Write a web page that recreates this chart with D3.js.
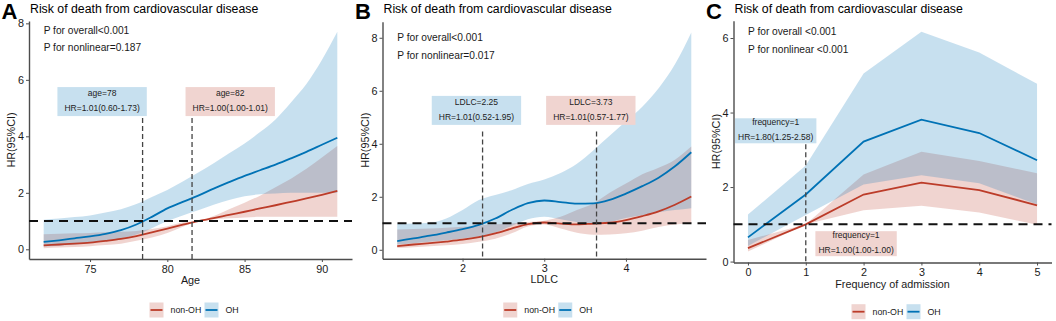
<!DOCTYPE html>
<html>
<head>
<meta charset="utf-8">
<script src="https://cdn.jsdelivr.net/npm/d3@7"></script>
<style>
  body { margin: 0; background: #fff; }
  svg { font-family: "Liberation Sans", Arial, sans-serif; }
</style>
</head>
<body>
<svg id="chart" width="1056" height="321"></svg>
<script>
// ---- panel A : age ----
var ageX      = [72, 73, 74, 75, 76, 77, 78, 79, 80, 81, 82, 83, 84, 85, 86, 87, 88, 89, 90, 91];
var ageOH     = [0.26, 0.32, 0.39, 0.46, 0.55, 0.68, 0.88, 1.15, 1.45, 1.68, 1.90, 2.15, 2.38, 2.60, 2.80, 3.00, 3.22, 3.45, 3.70, 3.95];
var ageOHLo   = [0.10, 0.13, 0.17, 0.22, 0.29, 0.38, 0.52, 0.75, 1.00, 1.20, 1.38, 1.58, 1.75, 1.88, 1.95, 1.98, 2.00, 2.00, 2.00, 2.00];
var ageOHHi   = [1.05, 1.09, 1.14, 1.20, 1.30, 1.42, 1.60, 1.85, 2.10, 2.40, 2.72, 3.05, 3.40, 3.75, 4.15, 4.60, 5.20, 5.85, 6.70, 7.70];
var ageNon    = [0.14, 0.17, 0.20, 0.24, 0.30, 0.37, 0.47, 0.60, 0.73, 0.87, 1.00, 1.10, 1.22, 1.33, 1.45, 1.56, 1.68, 1.80, 1.93, 2.07];
var ageNonLo  = [0.04, 0.06, 0.08, 0.11, 0.15, 0.20, 0.30, 0.42, 0.58, 0.80, 0.995, 1.06, 1.10, 1.13, 1.15, 1.15, 1.15, 1.15, 1.15, 1.15];
var ageNonHi  = [0.53, 0.55, 0.57, 0.58, 0.60, 0.62, 0.65, 0.72, 0.82, 0.95, 1.01, 1.18, 1.42, 1.65, 1.90, 2.20, 2.50, 2.85, 3.25, 3.66];
var ageTicks  = [75, 80, 85, 90];
var ageYTicks = [0, 2, 4, 6, 8];

// ---- panel B : LDLC ----
var ldlcX     = [1.2, 1.4, 1.6, 1.8, 2.0, 2.2, 2.4, 2.6, 2.8, 3.0, 3.2, 3.4, 3.6, 3.8, 4.0, 4.2, 4.4, 4.6, 4.8];
var ldlcOH    = [0.33, 0.43, 0.53, 0.65, 0.78, 0.94, 1.18, 1.50, 1.76, 1.86, 1.80, 1.74, 1.75, 1.88, 2.12, 2.40, 2.72, 3.15, 3.68];
var ldlcOHLo  = [0.20, 0.25, 0.30, 0.36, 0.43, 0.50, 0.65, 0.90, 1.15, 1.25, 1.15, 1.05, 1.00, 1.05, 1.20, 1.30, 1.42, 1.50, 1.57];
var ldlcOHHi  = [0.98, 0.99, 1.02, 1.18, 1.50, 1.88, 2.07, 2.25, 2.48, 2.65, 2.90, 3.25, 3.75, 4.30, 4.85, 5.40, 6.10, 7.00, 8.20];
var ldlcNon   = [0.14, 0.20, 0.25, 0.31, 0.38, 0.48, 0.62, 0.80, 0.97, 1.03, 0.99, 0.96, 0.99, 1.02, 1.12, 1.27, 1.45, 1.70, 2.01];
var ldlcNonLo = [0.07, 0.10, 0.13, 0.17, 0.22, 0.30, 0.42, 0.62, 0.88, 0.95, 0.80, 0.64, 0.57, 0.58, 0.62, 0.72, 0.86, 0.95, 1.00];
var ldlcNonHi = [0.77, 0.78, 0.80, 0.83, 0.87, 0.92, 0.96, 1.00, 1.05, 1.10, 1.25, 1.50, 1.75, 2.15, 2.50, 2.85, 3.10, 3.40, 3.90];
var ldlcTicks = [2, 3, 4];
var ldlcYTicks = [0, 2, 4, 6, 8];

// ---- panel C : frequency of admission ----
var freqX     = [0, 1, 2, 3, 4, 5];
var freqOH    = [0.65, 1.80, 3.22, 3.81, 3.45, 2.72];
var freqOHLo  = [0.42, 1.25, 2.07, 2.32, 2.10, 1.53];
var freqOHHi  = [1.26, 2.58, 5.05, 6.17, 5.61, 4.77];
var freqNon   = [0.36, 1.00, 1.80, 2.12, 1.92, 1.51];
var freqNonLo = [0.27, 1.00, 1.38, 1.50, 1.32, 0.99];
var freqNonHi = [0.58, 1.00, 2.34, 2.95, 2.70, 2.37];
var freqTicks = [0, 1, 2, 3, 4, 5];
var freqYTicks = [0, 2, 4, 6];

var blue = "#0072B5", red = "#BC3C29";
var blueBox = "#C7E0EF", redBox = "#F0D4D0";

var svg = d3.select("#chart");

function drawPanel(p) {
    var xe = d3.extent(p.xs);
    var xPad = (xe[1] - xe[0]) * 0.05;
    var x = d3.scaleLinear().domain([xe[0] - xPad, xe[1] + xPad]).range(p.xRange);

    var ymin = d3.min(p.ohLo.concat(p.nonLo)), ymax = d3.max(p.ohHi.concat(p.nonHi));
    var yPad = (ymax - ymin) * 0.05;
    var y = d3.scaleLinear().domain([ymin - yPad, ymax + yPad]).range(p.yRange);

    var rows = p.xs.map((v, i) => ({
        x: v, oh: p.oh[i], ohLo: p.ohLo[i], ohHi: p.ohHi[i],
        non: p.non[i], nonLo: p.nonLo[i], nonHi: p.nonHi[i]
    }));
    var curve = p.smooth ? d3.curveMonotoneX : d3.curveLinear;

    var g = svg.append("g");

    // letter + title
    g.append("text").attr("x", p.xRange[0] - 27.5).attr("y", 19)
        .style("font-size", "22px").style("font-weight", "bold").text(p.letter);
    g.append("text").attr("x", p.xRange[0] + 1).attr("y", 13.3)
        .style("font-size", "12.3px").text("Risk of death from cardiovascular disease");

    // ribbons (non-OH first, OH on top)
    g.append("path").datum(rows)
        .attr("d", d3.area().x(d => x(d.x)).y0(d => y(d.nonLo)).y1(d => y(d.nonHi)).curve(curve))
        .attr("fill", red).attr("fill-opacity", 0.22);
    g.append("path").datum(rows)
        .attr("d", d3.area().x(d => x(d.x)).y0(d => y(d.ohLo)).y1(d => y(d.ohHi)).curve(curve))
        .attr("fill", blue).attr("fill-opacity", 0.22);

    g.append("path").datum(rows)
        .attr("d", d3.line().x(d => x(d.x)).y(d => y(d.non)).curve(curve))
        .attr("fill", "none").attr("stroke", red).attr("stroke-width", 1.8);
    g.append("path").datum(rows)
        .attr("d", d3.line().x(d => x(d.x)).y(d => y(d.oh)).curve(curve))
        .attr("fill", "none").attr("stroke", blue).attr("stroke-width", 1.8);

    // axes
    var xAxis = g.append("g").attr("transform", `translate(0,${p.yRange[0]})`)
        .call(d3.axisBottom(x).tickValues(p.xTicks).tickFormat(d3.format("~g"))
            .tickSize(3).tickSizeOuter(0).tickPadding(3));
    var yAxis = g.append("g").attr("transform", `translate(${p.xRange[0]},0)`)
        .call(d3.axisLeft(y).tickValues(p.yTicks).tickFormat(d3.format("~g"))
            .tickSize(3).tickSizeOuter(0).tickPadding(2));
    [xAxis, yAxis].forEach(a => {
        a.select(".domain").attr("stroke", "#4d4d4d").attr("stroke-width", 1.4);
        a.selectAll(".tick line").attr("stroke", "#4d4d4d");
        a.selectAll(".tick text").attr("fill", "#1a1a1a").style("font-size", "10.8px")
            .style("font-family", "Liberation Sans, Arial, sans-serif");
    });

    // reference lines
    g.append("line")
        .attr("x1", p.xRange[0]).attr("x2", p.xRange[1])
        .attr("y1", y(1)).attr("y2", y(1))
        .attr("stroke", "#111").attr("stroke-width", 1.9).attr("stroke-dasharray", "9,6");
    p.vlines.forEach(v => {
        g.append("line")
            .attr("x1", x(v)).attr("x2", x(v))
            .attr("y1", y(p.vTop)).attr("y2", p.yRange[0])
            .attr("stroke", "#444").attr("stroke-width", 1.3).attr("stroke-dasharray", "5,3");
    });

    // P values
    p.pText.forEach((t, i) => {
        g.append("text").attr("x", x(p.pX)).attr("y", y(p.pY[i]))
            .style("font-size", "10.2px").attr("fill", "#1a1a1a").text(t);
    });

    // label boxes
    p.labels.forEach(l => {
        var lg = g.append("g");
        var cx = x(l.x), cy = y(l.y);
        var t1 = lg.append("text").attr("x", cx).attr("y", cy - 8.5).attr("dy", "0.35em")
            .attr("text-anchor", "middle").style("font-size", "8.5px").attr("fill", "#222").text(l.lines[0]);
        var t2 = lg.append("text").attr("x", cx).attr("y", cy + 6.3).attr("dy", "0.35em")
            .attr("text-anchor", "middle").style("font-size", "8.5px").attr("fill", "#222").text(l.lines[1]);
        var w = Math.max(t1.node().getComputedTextLength(), t2.node().getComputedTextLength()) + p.boxPad;
        lg.insert("rect", "text")
            .attr("x", cx - w / 2).attr("y", cy - p.boxH / 2)
            .attr("width", w).attr("height", p.boxH)
            .attr("fill", l.fill);
    });

    // axis titles
    g.append("text").attr("x", (p.xRange[0] + p.xRange[1]) / 2).attr("y", p.yRange[0] + p.xTitleDy)
        .attr("text-anchor", "middle").style("font-size", "10.8px").attr("fill", "#1a1a1a").text(p.xTitle);
    g.append("text")
        .attr("transform", `translate(${p.xRange[0] - 14},${(p.yRange[0] + p.yRange[1]) / 2})rotate(-90)`)
        .attr("text-anchor", "middle").style("font-size", "10.8px").attr("fill", "#1a1a1a").text("HR(95%CI)");

    // legend
    var cxL = (p.xRange[0] + p.xRange[1]) / 2 - 41;
    var ly = p.legendY;
    [["non-OH", red, 0], ["OH", blue, 55]].forEach(k => {
        g.append("rect").attr("x", cxL + k[2]).attr("y", ly - 7.5).attr("width", 14).attr("height", 15)
            .attr("fill", k[1]).attr("fill-opacity", 0.22);
        g.append("line").attr("x1", cxL + k[2] + 1).attr("x2", cxL + k[2] + 13)
            .attr("y1", ly).attr("y2", ly).attr("stroke", k[1]).attr("stroke-width", 1.8);
        g.append("text").attr("x", cxL + k[2] + 21).attr("y", ly).attr("dy", "0.35em")
            .style("font-size", "8.8px").attr("fill", "#1a1a1a").text(k[0]);
    });
}

drawPanel({
    letter: "A", xs: ageX, oh: ageOH, ohLo: ageOHLo, ohHi: ageOHHi,
    non: ageNon, nonLo: ageNonLo, nonHi: ageNonHi, smooth: true,
    xRange: [29, 352], yRange: [259, 21], xTicks: ageTicks, yTicks: ageYTicks,
    xTitle: "Age", xTitleDy: 25,
    vlines: [78.4, 81.6], vTop: 4.65,
    pX: 72, pY: [7.64, 7.03], pText: ["P for overall<0.001", "P for nonlinear=0.187"],
    boxPad: 14, boxH: 29,
    labels: [
        { x: 75.78, y: 5.23, lines: ["age=78", "HR=1.01(0.60-1.73)"], fill: blueBox },
        { x: 84.07, y: 5.23, lines: ["age=82", "HR=1.00(1.00-1.01)"], fill: redBox }
    ],
    legendY: 310
});

drawPanel({
    letter: "B", xs: ldlcX, oh: ldlcOH, ohLo: ldlcOHLo, ohHi: ldlcOHHi,
    non: ldlcNon, nonLo: ldlcNonLo, nonHi: ldlcNonHi, smooth: true,
    xRange: [382.5, 706], yRange: [258.7, 21.7], xTicks: ldlcTicks, yTicks: ldlcYTicks,
    xTitle: "LDLC", xTitleDy: 24.5,
    vlines: [2.245, 3.64], vTop: 4.46,
    pX: 1.2, pY: [7.89, 7.21], pText: ["P for overall<0.001", "P for nonlinear=0.017"],
    boxPad: 14, boxH: 29,
    labels: [
        { x: 2.17, y: 5.26, lines: ["LDLC=2.25", "HR=1.01(0.52-1.95)"], fill: blueBox },
        { x: 3.57, y: 5.26, lines: ["LDLC=3.73", "HR=1.01(0.57-1.77)"], fill: redBox }
    ],
    legendY: 310
});

drawPanel({
    letter: "C", xs: freqX, oh: freqOH, ohLo: freqOHLo, ohHi: freqOHHi,
    non: freqNon, nonLo: freqNonLo, nonHi: freqNonHi, smooth: false,
    xRange: [733.5, 1051.5], yRange: [262.5, 20.7], xTicks: freqTicks, yTicks: freqYTicks,
    xTitle: "Frequency of admission", xTitleDy: 25,
    vlines: [1], vTop: 3.15,
    pX: 0, pY: [6.07, 5.59], pText: ["P for overall <0.001", "P for nonlinear <0.001"],
    boxPad: 6, boxH: 25,
    labels: [
        { x: 0.48, y: 3.51, lines: ["frequency=1", "HR=1.80(1.25-2.58)"], fill: blueBox },
        { x: 1.87, y: 0.48, lines: ["frequency=1", "HR=1.00(1.00-1.00)"], fill: redBox }
    ],
    legendY: 311.7
});
</script>
</body>
</html>
